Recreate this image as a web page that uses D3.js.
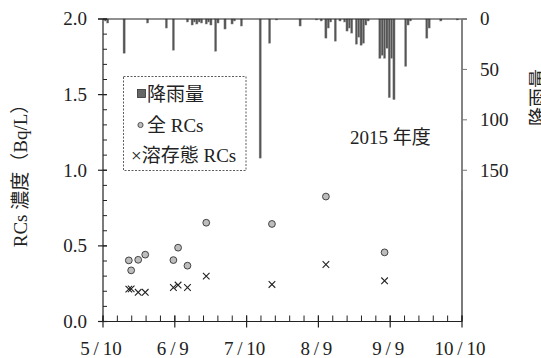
<!DOCTYPE html>
<html>
<head>
<meta charset="utf-8">
<script src="https://cdn.jsdelivr.net/npm/d3@7"></script>
<style>
  html, body { margin: 0; padding: 0; background: #fff; }
  svg { display: block; }
  text { font-family: "Liberation Serif", "Noto Sans CJK JP", serif; fill: #222; }
</style>
</head>
<body>
<svg id="chart" width="541" height="358"></svg>
<script>
// daily rainfall (mm)
const rainDates = [
  '2015-05-11', '2015-05-12', '2015-05-19', '2015-05-29', '2015-06-06', '2015-06-09',
  '2015-06-15', '2015-06-17', '2015-06-18', '2015-06-19', '2015-06-20', '2015-06-21',
  '2015-06-23', '2015-06-24', '2015-06-25', '2015-06-27', '2015-06-28', '2015-07-01',
  '2015-07-04', '2015-07-05', '2015-07-08', '2015-07-16', '2015-07-20', '2015-07-23',
  '2015-08-02', '2015-08-09', '2015-08-11', '2015-08-13', '2015-08-14', '2015-08-15',
  '2015-08-17', '2015-08-19', '2015-08-21', '2015-08-22', '2015-08-23', '2015-08-24',
  '2015-08-26', '2015-08-27', '2015-08-28', '2015-08-29', '2015-08-30', '2015-08-31',
  '2015-09-05', '2015-09-06', '2015-09-07', '2015-09-08', '2015-09-09', '2015-09-10',
  '2015-09-11', '2015-09-16', '2015-09-17', '2015-09-18', '2015-09-25', '2015-09-26',
  '2015-10-01', '2015-10-08'
];
const rainMm = [
  2, 4, 34, 4, 9, 31,
  3, 6, 3, 5, 3, 4,
  5, 3, 6, 32, 4, 10,
  5, 2, 7, 138, 24, 1,
  7, 1, 2, 19, 9, 3,
  22, 2, 3, 12, 9, 14,
  25, 18, 26, 24, 6, 2,
  39, 36, 39, 29, 78, 39,
  80, 47, 6, 2, 19, 9,
  2, 1
];

// RCs concentration samples (Bq/L)
const sampleDates = [
  '2015-05-21', '2015-05-22', '2015-05-25', '2015-05-28', '2015-06-09', '2015-06-11',
  '2015-06-15', '2015-06-23', '2015-07-21', '2015-08-13', '2015-09-07'
];
const totalRCs = [0.404, 0.338, 0.408, 0.442, 0.406, 0.488, 0.369, 0.653, 0.645, 0.826, 0.457];
const dissolvedRCs = [0.214, 0.216, 0.193, 0.193, 0.225, 0.241, 0.225, 0.300, 0.245, 0.377, 0.269];

const yTicks = [0, 0.5, 1.0, 1.5, 2.0];
const rainTicks = [0, 50, 100, 150];
const xStart = '2015-05-10';
const xEnd = '2015-10-10';

const parse = d3.timeParse('%Y-%m-%d');
const svg = d3.select('#chart');

const plotLeft = 103, plotRight = 462, plotTop = 19, plotBottom = 321.5;

const x = d3.scaleTime().domain([parse(xStart), parse(xEnd)]).range([plotLeft, plotRight]);
const y = d3.scaleLinear().domain([0, 2]).range([plotBottom, plotTop]);
const yRain = d3.scaleLinear().domain([0, 300]).range([plotTop, plotBottom]);

// rainfall bars hanging from the top
svg.append('g')
  .selectAll('rect')
  .data(rainDates.map((d, i) => ({ date: parse(d), mm: rainMm[i] })))
  .join('rect')
  .attr('x', (d) => x(d.date) - 1.1)
  .attr('y', yRain(0))
  .attr('width', 2.2)
  .attr('height', (d) => yRain(d.mm) - yRain(0))
  .attr('fill', '#555')
  .attr('stroke', '#999')
  .attr('stroke-width', 0.4);

// frame
const frame = svg.append('g').attr('stroke', '#222').attr('stroke-width', 1.2);
frame.append('line').attr('x1', plotLeft).attr('x2', plotLeft).attr('y1', plotTop).attr('y2', plotBottom);
frame.append('line').attr('x1', plotLeft).attr('x2', plotRight).attr('y1', plotBottom).attr('y2', plotBottom);
frame.append('line').attr('x1', plotLeft - 5).attr('x2', plotRight + 5).attr('y1', plotTop).attr('y2', plotTop);
frame.append('line').attr('x1', plotRight).attr('x2', plotRight).attr('y1', plotTop).attr('y2', plotBottom);

// x axis ticks: 5 equal intervals, 5 minor steps each
const span = x.domain()[1] - x.domain()[0];
const xMajor = d3.range(6).map((i) => new Date(+x.domain()[0] + (span * i) / 5));
const xMinor = d3.range(26).map((i) => new Date(+x.domain()[0] + (span * i) / 25));

svg.append('g')
  .selectAll('line')
  .data(xMinor)
  .join('line')
  .attr('x1', (d) => x(d)).attr('x2', (d) => x(d))
  .attr('y1', plotBottom).attr('y2', plotBottom - 6)
  .attr('stroke', '#222');

svg.append('g')
  .selectAll('line')
  .data(xMajor)
  .join('line')
  .attr('x1', (d) => x(d)).attr('x2', (d) => x(d))
  .attr('y1', plotBottom - 6).attr('y2', plotBottom + 6)
  .attr('stroke', '#222')
  .attr('stroke-width', 1.2);

const fmtMonth = d3.timeFormat('%-m');
const fmtDay = d3.timeFormat('%-d');
svg.append('g')
  .selectAll('text')
  .data(xMajor)
  .join('text')
  .attr('x', (d) => x(d) - 2)
  .attr('y', 355)
  .attr('text-anchor', 'middle')
  .attr('font-size', 19)
  .text((d) => `${fmtMonth(d)}\u2009/\u2009${fmtDay(d)}`);

// left axis ticks
svg.append('g')
  .selectAll('line')
  .data(d3.range(0, 2.01, 0.1))
  .join('line')
  .attr('x1', plotLeft).attr('x2', plotLeft + 4)
  .attr('y1', (d) => y(d)).attr('y2', (d) => y(d))
  .attr('stroke', '#222');

svg.append('g')
  .selectAll('line')
  .data(yTicks)
  .join('line')
  .attr('x1', plotLeft - 5).attr('x2', plotLeft + 4)
  .attr('y1', (d) => y(d)).attr('y2', (d) => y(d))
  .attr('stroke', '#222')
  .attr('stroke-width', 1.2);

svg.append('g')
  .selectAll('text')
  .data(yTicks)
  .join('text')
  .attr('x', 87)
  .attr('y', (d) => y(d))
  .attr('dy', '0.34em')
  .attr('text-anchor', 'end')
  .attr('font-size', 19)
  .text((d) => d.toFixed(1));

// right rainfall axis
svg.append('line')
  .attr('x1', plotRight).attr('x2', plotRight)
  .attr('y1', yRain(0)).attr('y2', yRain(170))
  .attr('stroke', '#888')
  .attr('stroke-width', 1.4);

svg.append('g')
  .selectAll('line')
  .data(rainTicks)
  .join('line')
  .attr('x1', plotRight).attr('x2', plotRight + 5)
  .attr('y1', (d) => yRain(d)).attr('y2', (d) => yRain(d))
  .attr('stroke', '#777');

svg.append('g')
  .selectAll('text')
  .data(rainTicks)
  .join('text')
  .attr('x', 480)
  .attr('y', (d) => yRain(d))
  .attr('dy', '0.34em')
  .attr('font-size', 19)
  .text((d) => d);

// axis titles
svg.append('text')
  .attr('transform', 'translate(20,171) rotate(-90)')
  .attr('text-anchor', 'middle')
  .attr('dominant-baseline', 'central')
  .attr('font-size', 19)
  .text('RCs 濃度（Bq/L）');

svg.append('text')
  .attr('transform', 'translate(538,97.5) rotate(-90)')
  .attr('text-anchor', 'middle')
  .attr('dominant-baseline', 'central')
  .attr('font-size', 19)
  .text('降雨量');

// points
const samples = sampleDates.map((d, i) => ({
  date: parse(d),
  total: totalRCs[i],
  dissolved: dissolvedRCs[i]
}));

svg.append('g')
  .selectAll('circle')
  .data(samples)
  .join('circle')
  .attr('cx', (d) => x(d.date))
  .attr('cy', (d) => y(d.total))
  .attr('r', 3.4)
  .attr('fill', '#bdbdbd')
  .attr('stroke', '#333')
  .attr('stroke-width', 0.9);

const s = 3.3;
svg.append('g')
  .selectAll('path')
  .data(samples)
  .join('path')
  .attr('d', (d) => {
    const cx = x(d.date), cy = y(d.dissolved);
    return `M${cx - s},${cy - s}L${cx + s},${cy + s}M${cx - s},${cy + s}L${cx + s},${cy - s}`;
  })
  .attr('stroke', '#222')
  .attr('stroke-width', 1.1)
  .attr('fill', 'none');

// legend
const legend = svg.append('g');
legend.append('rect')
  .attr('x', 123.5).attr('y', 76.5)
  .attr('width', 122.5).attr('height', 94)
  .attr('fill', '#fff')
  .attr('stroke', '#333')
  .attr('stroke-width', 0.8)
  .attr('stroke-dasharray', '2,1.5');

legend.append('rect')
  .attr('x', 137.5).attr('y', 89.5)
  .attr('width', 8).attr('height', 8)
  .attr('fill', '#666')
  .attr('stroke', '#333')
  .attr('stroke-width', 0.8);
legend.append('text').attr('x', 147).attr('y', 100.5).attr('font-size', 19).text('降雨量');

legend.append('circle')
  .attr('cx', 140.5).attr('cy', 125)
  .attr('r', 2.6)
  .attr('fill', '#bdbdbd')
  .attr('stroke', '#333')
  .attr('stroke-width', 0.8);
legend.append('text').attr('x', 147).attr('y', 131.5).attr('font-size', 19).text('全 RCs');

legend.append('text').attr('x', 131).attr('y', 161.5).attr('font-size', 19).text('×溶存態 RCs');

svg.append('text')
  .attr('x', 350)
  .attr('y', 144)
  .attr('font-size', 19)
  .text('2015 年度');
</script>
</body>
</html>
